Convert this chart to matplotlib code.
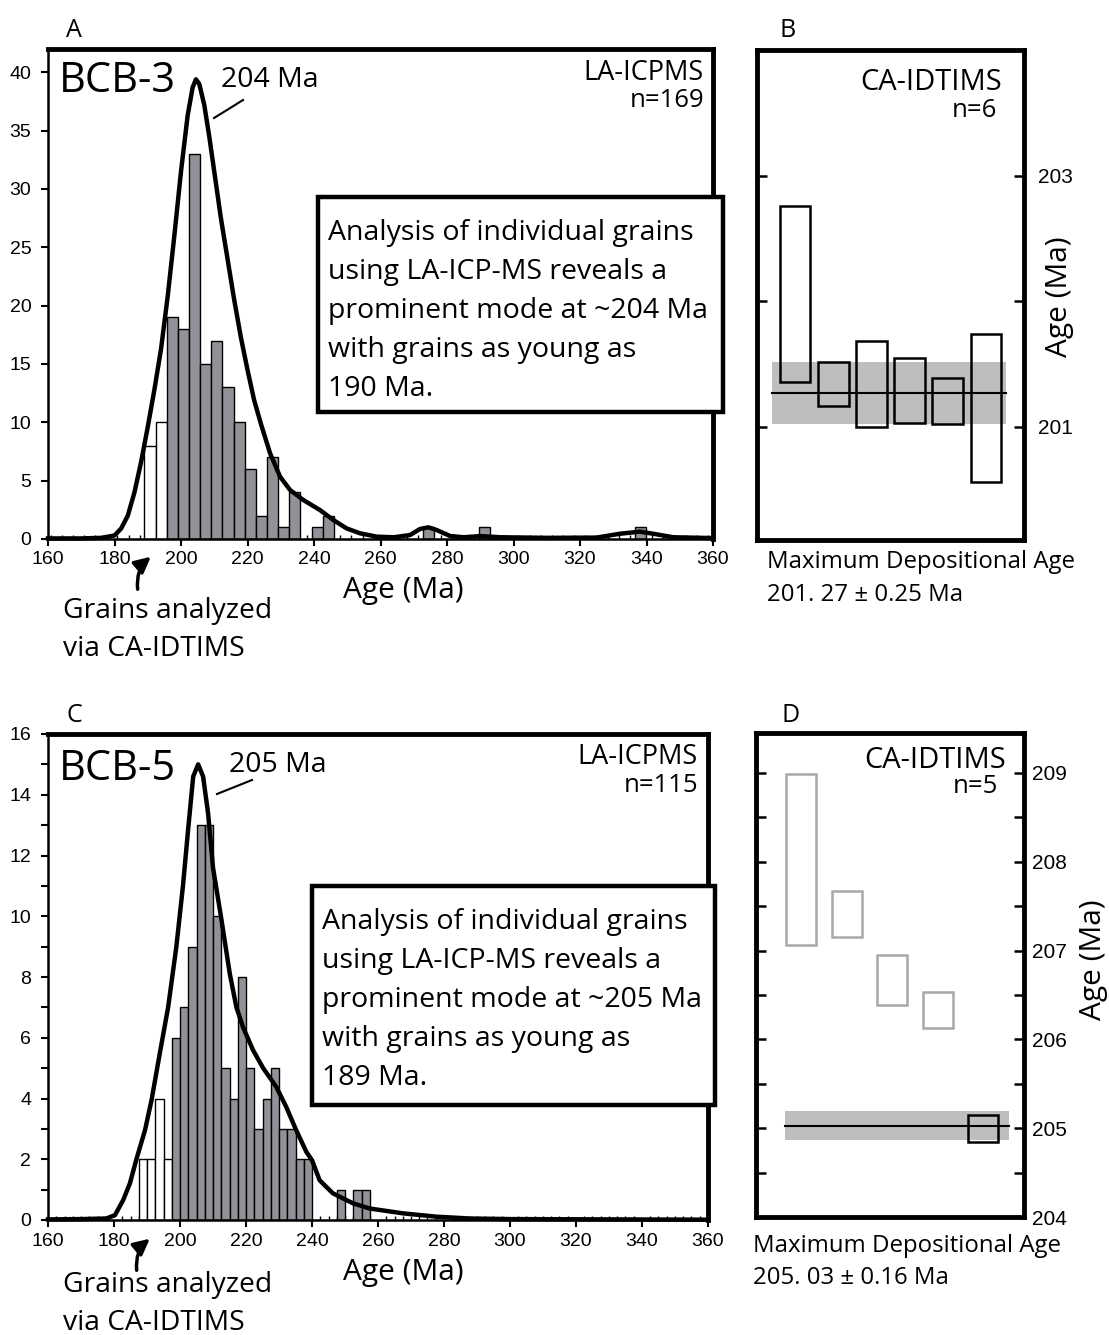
import numpy as np
import matplotlib
matplotlib.use('Agg')
import matplotlib.pyplot as plt
from matplotlib.patches import Rectangle, FancyArrowPatch
from matplotlib.lines import Line2D
from matplotlib.ticker import MultipleLocator

W, H = 1109, 1335
TXT = 'Open Sans'
NUM = 'Liberation Sans'
GREY = '#909297'
BAND = '#bdbec0'

# ---- BCB-3 LA-ICPMS ages: histogram counts per bin (first bins = CA-IDTIMS grains) ----
bcb3_bin0, bcb3_binw = 189.0, 3.35
bcb3_counts = [8, 10, 19, 18, 33, 15, 17, 13, 10, 6, 2, 7, 1, 4, 0, 1, 2,
               0, 0, 0, 0, 0, 0, 0, 0, 1,
               0, 0, 0, 0, 1,
               0, 0, 0, 0, 0, 0, 0, 0, 0, 0, 0, 0, 0, 1]
bcb3_nwhite = 2
bcb3_pdp_age = [160, 170, 176, 180, 182, 184, 186, 188, 190, 192,
                194, 196, 198, 200, 202, 203.5, 204.5, 205.5, 207, 208.5,
                210, 212, 214, 216, 218, 220, 222, 224, 226.8, 229.8,
                232.8, 236.8, 241.8, 245.8, 249.8, 253.8, 258.9, 264, 268.9, 271.9,
                274.4, 276.9, 280.9, 285, 290, 296, 310, 325, 332, 338,
                342, 348, 360]
bcb3_pdp_val = [0.05, 0.05, 0.1, 0.3, 0.9, 2.0, 4.0, 6.6, 9.6, 12.8,
                16.3, 20.8, 26.0, 31.5, 36.3, 38.7, 39.4, 39.0, 37.2, 34.5,
                31.5, 27.5, 24.0, 20.5, 17.3, 14.5, 11.9, 9.9, 7.34, 5.34,
                4.2, 3.34, 2.48, 1.63, 0.91, 0.49, 0.2, 0.15, 0.34, 0.86,
                1.0, 0.77, 0.26, 0.15, 0.25, 0.15, 0.1, 0.12, 0.45, 0.63,
                0.45, 0.15, 0.08]

# ---- BCB-5 ----
bcb5_bin0, bcb5_binw = 187.5, 2.5
bcb5_counts = [2, 2, 4, 2, 6, 7, 9, 13, 13, 10, 5, 4, 8, 5, 3, 4, 5, 3, 3, 2, 2,
               0, 0, 0, 1, 0, 1, 1]
bcb5_nwhite = 4
bcb5_pdp_age = [160, 170, 177.7, 180.3, 182.8, 184.8, 186.8, 189.4, 191.4, 193.9,
                196.4, 198.9, 200.9, 202.5, 204.0, 205.5, 207.0, 208.5, 210.0, 212.6,
                215.1, 217.1, 219.1, 222.1, 225.2, 229.2, 232.2, 235.2, 238.3, 240,
                242.3, 246.3, 252.4, 257.4, 267.5, 277.6, 287.7, 300, 330, 360]
bcb5_pdp_val = [0.02, 0.03, 0.05, 0.16, 0.66, 1.2, 2.0, 2.96, 3.96, 5.5,
                7.0, 9.0, 11.0, 12.9, 14.6, 15.0, 14.6, 13.4, 11.6, 9.86,
                8.1, 7.0, 6.35, 5.6, 5.0, 4.38, 3.72, 2.96, 2.24, 1.97,
                1.31, 0.88, 0.55, 0.38, 0.22, 0.11, 0.05, 0.03, 0.02, 0.01]

# ---- CA-IDTIMS single grain ages (2 sigma ranges) ----
b_lo = [201.36, 201.17, 201.00, 201.03, 201.02, 200.56]
b_hi = [202.76, 201.52, 201.68, 201.55, 201.39, 201.74]
b_mda, b_err = 201.27, 0.25
d_lo = [207.06, 207.15, 206.39, 206.13, 204.84]
d_hi = [208.99, 207.67, 206.95, 206.53, 205.15]
d_mda, d_err = 205.03, 0.16
d_used = [False, False, False, False, True]

box3_lines = ['Analysis of individual grains', 'using LA-ICP-MS reveals a',
              'prominent mode at ~204 Ma', 'with grains as young as', '190 Ma.']
box5_lines = ['Analysis of individual grains', 'using LA-ICP-MS reveals a',
              'prominent mode at ~205 Ma', 'with grains as young as', '189 Ma.']

fig = plt.figure(figsize=(W / 100, H / 100), dpi=100)


def pos(l, t, r, b):
    return [l / W, 1 - b / H, (r - l) / W, (b - t) / H]


def ftext(x, y, s, size, ha='left', **kw):
    fig.text(x / W, 1 - y / H, s, fontsize=size, ha=ha, va='baseline',
             family=TXT, **kw)


def hist_panel(p, counts, bin0, binw, nwhite, age, val, ytop, ymaj, ymin):
    ax = fig.add_axes(p)
    counts = np.array(counts)
    edges = bin0 + binw * np.arange(len(counts))
    keep = counts > 0
    cols = np.array(['white' if i < nwhite else GREY for i in range(len(counts))])
    ax.bar(edges[keep], counts[keep], width=binw, align='edge', color=cols[keep],
           edgecolor='black', linewidth=1.0, zorder=2)
    ax.plot(age, val, color='black', lw=3.2, zorder=3, clip_on=False,
            solid_joinstyle='round')
    ax.set_xlim(160, 360)
    ax.set_ylim(0, ytop)
    ax.set_xticks(range(160, 361, 20))
    ax.xaxis.set_minor_locator(MultipleLocator(binw))
    ax.yaxis.set_major_locator(MultipleLocator(ymaj))
    ax.yaxis.set_minor_locator(MultipleLocator(ymin))
    ax.tick_params(axis='both', which='major', direction='out', length=5, width=1.5,
                   labelsize=14)
    ax.tick_params(axis='x', which='major', pad=4)
    ax.tick_params(axis='y', which='major', pad=7)
    ax.tick_params(axis='x', which='minor', direction='in', length=3, width=1)
    ax.tick_params(axis='y', which='minor', direction='out', length=5, width=1.5)
    for lab in ax.get_xticklabels() + ax.get_yticklabels():
        lab.set_family(NUM)
    for s in ['left', 'bottom']:
        ax.spines[s].set_linewidth(1.8)
    for s in ['top', 'right']:
        ax.spines[s].set_linewidth(3.5)
    return ax


def ca_panel(p, lo, hi, xlim, width, band, mda, err, ylim, ticks, labels, minor,
             edgecols, lpad):
    ax = fig.add_axes(p)
    x = np.arange(1, len(lo) + 1)
    ax.fill_between(band, mda - err, mda + err, color=BAND, lw=0, zorder=1)
    ax.plot(band, [mda, mda], color='black', lw=1.5, zorder=2)
    ax.bar(x, np.array(hi) - np.array(lo), bottom=lo, width=width,
           facecolor='none', edgecolor=edgecols, linewidth=1.8, zorder=3)
    ax.set_xlim(*xlim)
    ax.set_ylim(*ylim)
    ax.set_xticks([])
    ax.set_yticks(ticks)
    ax.set_yticklabels(labels)
    if minor:
        ax.yaxis.set_minor_locator(MultipleLocator(minor))
    ax.yaxis.tick_right()
    ax.tick_params(axis='y', which='both', direction='in', left=True, right=True,
                   length=7, width=1.8, labelsize=15, pad=lpad)
    for lab in ax.get_yticklabels():
        lab.set_family(NUM)
    for s in ax.spines.values():
        s.set_linewidth(3.5)
    return ax


# panel A / C histograms
hist_panel(pos(48, 49, 713, 539), bcb3_counts, bcb3_bin0, bcb3_binw, bcb3_nwhite,
           bcb3_pdp_age, bcb3_pdp_val, 42, 5, 5)
hist_panel(pos(48, 734, 708, 1220), bcb5_counts, bcb5_bin0, bcb5_binw, bcb5_nwhite,
           bcb5_pdp_age, bcb5_pdp_val, 16, 2, 1)

# panel B / D CA-IDTIMS
ca_panel(pos(757, 50, 1024, 540), b_lo, b_hi, (0, 7), 0.8, [0.39, 6.52], b_mda, b_err,
         (200.1, 204.0), [201, 202, 203], ['201', '', '203'], None, 'black', 10)
ca_panel(pos(756, 733, 1024, 1217), d_lo, d_hi, (0, 5.9), 0.66, [0.64, 5.58], d_mda, d_err,
         (204.0, 209.45), [204, 205, 206, 207, 208, 209],
         ['204', '205', '206', '207', '208', '209'], 0.5,
         ['black' if u else '#a8a8a8' for u in d_used], 6)

# panel letters
ftext(66, 37, 'A', 18)
ftext(780, 37, 'B', 18)
ftext(66, 722, 'C', 18)
ftext(781, 722, 'D', 18)

# sample names and peak labels
ftext(59, 92, 'BCB-3', 30)
ftext(221, 87, '204 Ma', 20.5)
fig.add_artist(Line2D([214 / W, 227 / W, 243 / W], [1 - 118 / H, 1 - 110 / H, 1 - 100 / H],
                      color='black', lw=1.5))
ftext(59, 780, 'BCB-5', 30)
ftext(229, 772, '205 Ma', 20.5)
fig.add_artist(Line2D([217 / W, 252 / W], [1 - 794 / H, 1 - 780 / H], color='black', lw=1.5))

ftext(704, 80, 'LA-ICPMS', 19.5, ha='right')
ftext(704, 107, 'n=169', 18.5, ha='right')
ftext(698, 764, 'LA-ICPMS', 19.5, ha='right')
ftext(698, 792, 'n=115', 18.5, ha='right')

ftext(1002, 90, 'CA-IDTIMS', 21, ha='right')
ftext(997, 117, 'n=6', 18.5, ha='right')
ftext(1006, 768, 'CA-IDTIMS', 21, ha='right')
ftext(998, 793, 'n=5', 18.5, ha='right')

# axis titles
ftext(403, 598, 'Age (Ma)', 21.5, ha='center')
ftext(403, 1280, 'Age (Ma)', 21.5, ha='center')
fig.text(1060 / W, 1 - 297 / H, 'Age (Ma)', fontsize=21.5, family=TXT, rotation=90,
         ha='center', va='center')
fig.text(1094 / W, 1 - 960 / H, 'Age (Ma)', fontsize=21.5, family=TXT, rotation=90,
         ha='center', va='center')

# maximum depositional age
ftext(767, 568, 'Maximum Depositional Age', 17.3)
ftext(767, 601, '201. 27 \u00b1 0.25 Ma', 17.3)
ftext(753, 1252, 'Maximum Depositional Age', 17.3)
ftext(753, 1284, '205. 03 \u00b1 0.16 Ma', 17.3)

# text boxes
for (l, t, r, b, x0, y0, lines) in [(318, 197, 723, 412, 328, 240, box3_lines),
                                    (312, 886, 715, 1105, 322, 929, box5_lines)]:
    fig.add_artist(Rectangle((l / W, 1 - b / H), (r - l) / W, (b - t) / H,
                             transform=fig.transFigure, facecolor='white',
                             edgecolor='black', lw=3.2, zorder=10))
    for i, s in enumerate(lines):
        ftext(x0, y0 + 39 * i, s, 20.5, zorder=11)

# grains analyzed via CA-IDTIMS
for (tail, head, ty) in [((138, 592), (153, 555), 618), ((137, 1273), (152, 1237), 1292)]:
    fig.add_artist(FancyArrowPatch((tail[0] / W, 1 - tail[1] / H), (head[0] / W, 1 - head[1] / H),
                                   transform=fig.transFigure, arrowstyle='-|>',
                                   connectionstyle='arc3,rad=-0.3', mutation_scale=24,
                                   color='black', lw=2.5))
    ftext(63, ty, 'Grains analyzed', 20.3)
    ftext(63, ty + 38, 'via CA-IDTIMS', 20.3)

fig.savefig('out.png', dpi=100)
